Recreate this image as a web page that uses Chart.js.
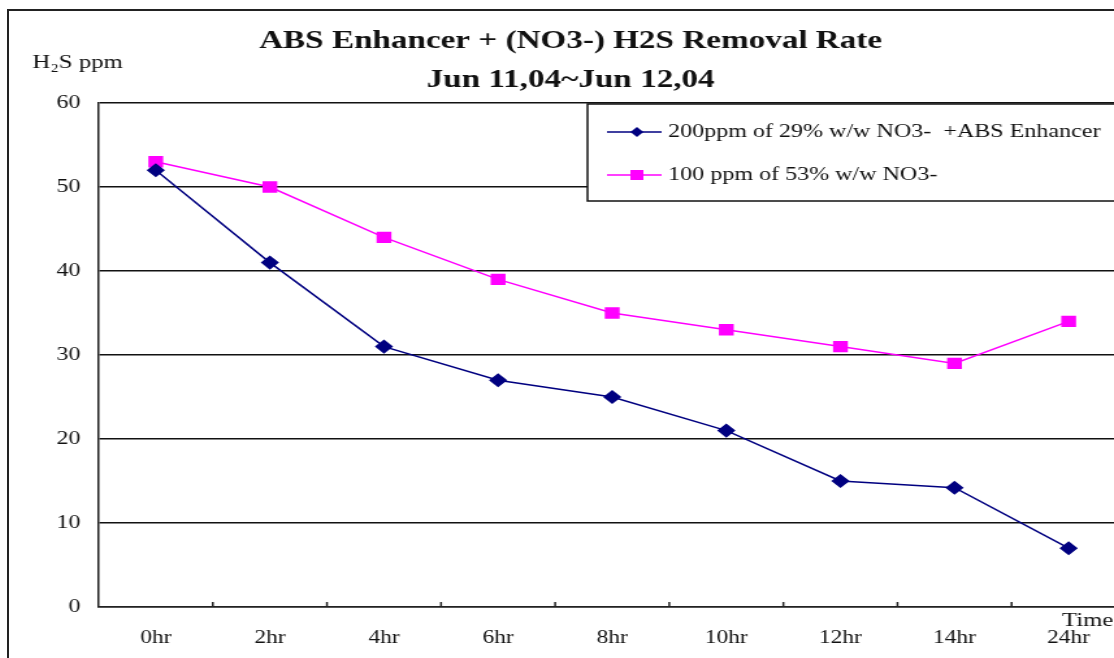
<!DOCTYPE html>
<html>
<head>
<meta charset="utf-8">
<script src="https://cdn.jsdelivr.net/npm/chart.js@4"></script>
<style>
  html, body { margin: 0; padding: 0; background: #fff; overflow: hidden; width: 1114px; height: 658px; }
  #frame { position: absolute; left: 7px; top: 9px; width: 1144px; height: 670px; border: 2px solid #222; }
  #chart { display: block; }
</style>
</head>
<body>
<div id="frame"><canvas id="chart" width="880" height="670" style="width:1144px;height:670px"></canvas></div>
<script>
const hours = ['0hr', '2hr', '4hr', '6hr', '8hr', '10hr', '12hr', '14hr', '24hr'];
const withEnhancer = [52, 41, 31, 27, 25, 21, 15, 14.2, 7];
const nitrateOnly = [53, 50, 44, 39, 35, 33, 31, 29, 34];
const yTicks = [0, 10, 20, 30, 40, 50, 60];

const SERIF = '"Liberation Serif", "DejaVu Serif", serif';

// the original picture is stretched sideways, so the canvas is drawn narrow and widened by css

// titles, axis captions, inward x ticks and the boxed legend
const decorations = {
  id: 'decorations',
  afterDraw(chart) {
    const { ctx, chartArea: a, scales: { x } } = chart;
    ctx.save();
    ctx.fillStyle = '#111';
    ctx.textAlign = 'center';
    ctx.textBaseline = 'middle';
    ctx.font = 'bold 25.5px ' + SERIF;
    ctx.fillText('ABS Enhancer + (NO3-) H2S Removal Rate', 432, 30);
    ctx.fillText('Jun 11,04~Jun 12,04', 432, 69);

    ctx.font = '19px ' + SERIF;
    ctx.textAlign = 'left';
    ctx.fillText('H\u2082S ppm', 18, 52);
    ctx.fillText('Time', 810, 610);

    // small tick marks between categories, pointing up into the plot
    ctx.strokeStyle = '#222';
    ctx.lineWidth = 1.5;
    const half = (x.getPixelForValue(1) - x.getPixelForValue(0)) / 2;
    for (let i = 0; i < hours.length; i++) {
      const px = x.getPixelForValue(i) + half;
      ctx.beginPath();
      ctx.moveTo(px, a.bottom);
      ctx.lineTo(px, a.bottom - 5);
      ctx.stroke();
    }

    // legend box
    const bx = 445, by = 93, bw = 460, bh = 97;
    ctx.fillStyle = '#fff';
    ctx.fillRect(bx, by, bw, bh);
    ctx.strokeStyle = '#111';
    ctx.lineWidth = 1.5;
    ctx.strokeRect(bx, by, bw, bh);
    ctx.font = '18.5px ' + SERIF;
    ctx.textBaseline = 'middle';
    chart.data.datasets.forEach((ds, i) => {
      const ly = by + 28 + i * 43;
      ctx.strokeStyle = ds.borderColor;
      ctx.lineWidth = 1.5;
      ctx.beginPath();
      ctx.moveTo(460, ly);
      ctx.lineTo(502, ly);
      ctx.stroke();
      ctx.fillStyle = ds.backgroundColor;
      ctx.beginPath();
      if (ds.pointStyle === 'rectRot') {
        const r = 5;
        ctx.moveTo(483, ly - r); ctx.lineTo(483 + r, ly); ctx.lineTo(483, ly + r); ctx.lineTo(483 - r, ly);
      } else {
        ctx.rect(478, ly - 5, 10, 10);
      }
      ctx.fill();
      ctx.fillStyle = '#111';
      ctx.fillText(ds.label, 507, ly);
    });
    ctx.restore();
  }
};

new Chart(document.getElementById('chart'), {
  type: 'line',
  data: {
    labels: hours,
    datasets: [
      {
        label: '200ppm of 29% w/w NO3-  +ABS Enhancer',
        data: withEnhancer,
        borderColor: '#000080',
        backgroundColor: '#000080',
        borderWidth: 1.5,
        pointStyle: 'rectRot',
        pointRadius: 6,
        tension: 0
      },
      {
        label: '100 ppm of 53% w/w NO3-',
        data: nitrateOnly,
        borderColor: '#ff00ff',
        backgroundColor: '#ff00ff',
        borderWidth: 1.5,
        pointStyle: 'rect',
        pointRadius: 7,
        tension: 0
      }
    ]
  },
  options: {
    responsive: false,
    animation: false,
    layout: { padding: { left: 8, top: 92, right: 21, bottom: 14 } },
    scales: {
      x: {
        offset: true,
        afterFit: s => { s.height = 60; },
        grid: { display: false },
        border: { display: true, color: '#222', width: 1.5 },
        ticks: { color: '#111', padding: 12, font: { family: SERIF, size: 18 } }
      },
      y: {
        min: 0,
        max: 60,
        afterFit: s => { s.width = 61; },
        afterBuildTicks: s => { s.ticks = yTicks.map(v => ({ value: v })); },
        grid: { color: '#111', lineWidth: 1.5, drawTicks: false },
        border: { display: true, color: '#222', width: 1.5 },
        ticks: { color: '#111', padding: 14, font: { family: SERIF, size: 18.5 } }
      }
    },
    plugins: { legend: { display: false }, tooltip: { enabled: false } }
  },
  plugins: [decorations]
});
</script>
</body>
</html>
